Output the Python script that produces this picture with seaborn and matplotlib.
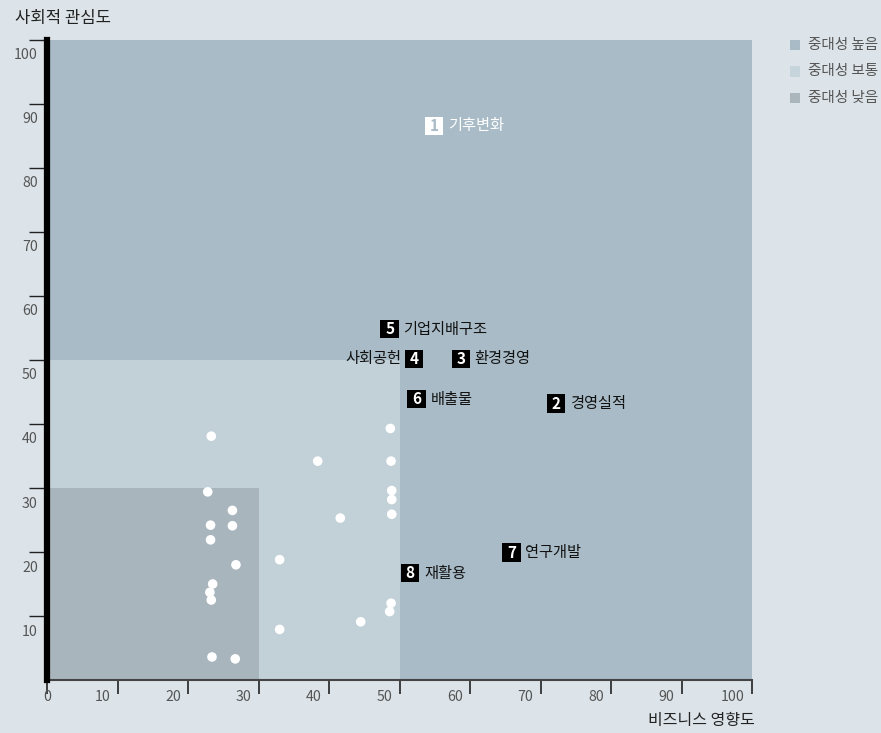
import matplotlib
matplotlib.use("Agg")
import matplotlib.pyplot as plt
import matplotlib.transforms as mtransforms
from matplotlib.patches import Rectangle
import seaborn as sns
import pandas as pd

sns.set_theme(style="white")
plt.rcParams['font.family'] = ['Noto Sans CJK KR', 'DejaVu Sans']

# ---- data ----
dot_x = [23.3, 48.7, 38.4, 48.8, 22.8, 48.9, 48.9, 26.3, 23.2, 26.3, 41.6, 48.9,
         23.2, 26.8, 33.0, 23.5, 23.1, 23.3, 48.8, 48.6, 44.5, 33.0, 23.4, 26.7]
dot_y = [38.1, 39.3, 34.2, 34.2, 29.4, 29.6, 28.2, 26.5, 24.2, 24.1, 25.3, 25.9,
         21.9, 18.0, 18.8, 15.0, 13.7, 12.5, 12.0, 10.7, 9.1, 7.9, 3.6, 3.3]

item_num = ["1", "2", "3", "4", "5", "6", "7", "8"]
item_label = ["기후변화", "경영실적", "환경경영", "사회공헌", "기업지배구조", "배출물", "연구개발", "재활용"]
item_x = [54.9, 72.2, 58.7, 52.1, 48.6, 52.4, 65.9, 51.5]
item_y = [86.6, 43.2, 50.2, 50.2, 54.8, 43.9, 19.9, 16.7]

zone_names = ["중대성 높음", "중대성 보통", "중대성 낮음"]
zone_limits = [100, 50, 30]
zone_colors = ["#a8bbc6", "#c2d1d8", "#a9b5bd"]
legend_colors = ["#a8bbc6", "#c6d4db", "#aab5bc"]

x_ticks = [0, 10, 20, 30, 40, 50, 60, 70, 80, 90, 100]
y_ticks = [10, 20, 30, 40, 50, 60, 70, 80, 90, 100]
x_title = "비즈니스 영향도"
y_title = "사회적 관심도"

BG = "#dce4e9"
W, H = 881, 733
fig = plt.figure(figsize=(W / 100, H / 100), dpi=100, facecolor=BG)
ax = fig.add_axes([47 / W, (H - 680) / H, (752 - 47) / W, 640 / H])
ax.set_facecolor(BG)

# zones
for lim, col in zip(zone_limits, zone_colors):
    ax.add_patch(Rectangle((0, 0), lim, lim, facecolor=col, edgecolor="none", zorder=0))

# dots
df = pd.DataFrame({"x": dot_x, "y": dot_y})
sns.scatterplot(data=df, x="x", y="y", ax=ax, color="white", s=48, edgecolor="none",
                linewidth=0, zorder=3, legend=False)

# numbered items
items = pd.DataFrame({"x": item_x, "y": item_y, "n": item_num, "lab": item_label})
box_cols = ["white" if n == "1" else "black" for n in item_num]
sns.scatterplot(data=items, x="x", y="y", ax=ax, marker="s", s=175, hue="n",
                palette=dict(zip(item_num, box_cols)), edgecolor="none", linewidth=0,
                zorder=4, legend=False)
for n, lab, xx, yy in zip(item_num, item_label, item_x, item_y):
    num_col = "#a8bbc6" if n == "1" else "white"
    txt_col = "white" if n == "1" else "#111111"
    ax.text(xx, yy, n, ha="center", va="center", color=num_col, fontsize=11,
            fontweight="bold", zorder=5)
    if n == "4":
        ax.annotate(lab, (xx, yy), xytext=(-9, 0), textcoords="offset points",
                    ha="right", va="center", fontsize=11, color=txt_col, zorder=5)
    else:
        ax.annotate(lab, (xx, yy), xytext=(10, 0), textcoords="offset points",
                    ha="left", va="center", fontsize=11, color=txt_col, zorder=5)

ax.set_xlim(0, 100)
ax.set_ylim(0, 100)

# spines
for s in ["top", "right"]:
    ax.spines[s].set_visible(False)
ax.spines["left"].set_color("black")
ax.spines["left"].set_linewidth(4.5)
ax.spines["left"].set_zorder(6)
ax.spines["bottom"].set_color("#444444")
ax.spines["bottom"].set_linewidth(1.5)

ax.set_xticks(x_ticks)
ax.set_xticklabels([str(v) for v in x_ticks])
ax.set_yticks(y_ticks)
ax.set_yticklabels([str(v) for v in y_ticks])
ax.tick_params(axis="x", bottom=True, direction="out", length=10, width=1.2, color="#222222",
               pad=-3, labelsize=10.2, labelcolor="#555555")
ax.tick_params(axis="y", left=True, direction="out", length=13, width=1.0, color="#222222",
               pad=-6.5, labelsize=10.2, labelcolor="#555555")
ax.set_xlabel("")
ax.set_ylabel("")

for lbl in ax.get_xticklabels():
    if lbl.get_text() != "0":
        lbl.set_ha("right")
        lbl.set_transform(lbl.get_transform() +
                          mtransforms.ScaledTranslation(-0.07, 0, fig.dpi_scale_trans))
for lbl in ax.get_yticklabels():
    lbl.set_va("center")
    lbl.set_transform(lbl.get_transform() +
                      mtransforms.ScaledTranslation(0, -0.155, fig.dpi_scale_trans))

# axis titles
fig.text(15 / W, 1 - 18 / H, y_title, ha="left", va="center", fontsize=12, color="#222222")
fig.text(755 / W, 1 - 720 / H, x_title, ha="right", va="center", fontsize=11.5, color="#222222")

# legend
for i, (name, col) in enumerate(zip(zone_names, legend_colors)):
    yc = 45 + i * 26.5
    fig.patches.append(Rectangle((790 / W, 1 - (yc + 5) / H), 10 / W, 10 / H,
                                 transform=fig.transFigure, facecolor=col,
                                 edgecolor="none", figure=fig))
    fig.text(808 / W, 1 - yc / H, name, ha="left", va="center", fontsize=10.5,
             color="#555555")

fig.savefig("out.png", dpi=100, facecolor=BG)
